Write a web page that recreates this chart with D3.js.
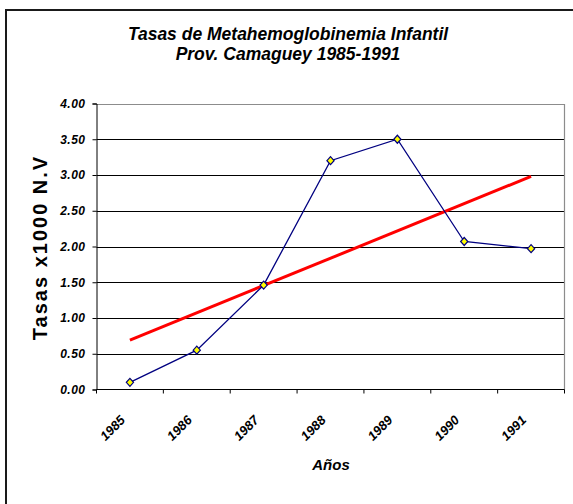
<!DOCTYPE html>
<html>
<head>
<meta charset="utf-8">
<script src="https://cdn.jsdelivr.net/npm/d3@7/dist/d3.min.js"></script>
<style>
  html, body { margin: 0; padding: 0; background: #fff; }
  svg { display: block; }
  text { font-family: "Liberation Sans", Arial, sans-serif; }
</style>
</head>
<body>
<svg id="chart" width="573" height="504"></svg>
<script>
const titleLines = ["Tasas de Metahemoglobinemia Infantil", "Prov. Camaguey 1985-1991"];
const years = ["1985", "1986", "1987", "1988", "1989", "1990", "1991"];
const rates = [0.10, 0.55, 1.46, 3.20, 3.50, 2.07, 1.97];
const yTicks = [0, 0.5, 1.0, 1.5, 2.0, 2.5, 3.0, 3.5, 4.0];
const yTitle = "Tasas x1000 N.V";
const xTitle = "Años";

const svg = d3.select("#chart");
const plot = { left: 96.5, right: 564.5, top: 103.5, bottom: 389.5 };

// outer chart border (right/bottom edges fall outside the window)
svg.append("rect")
  .attr("x", 6).attr("y", 10)
  .attr("width", 700).attr("height", 700)
  .attr("fill", "none").attr("stroke", "#1a1a1a").attr("stroke-width", 2);

const x = d3.scaleBand().domain(years).range([plot.left, plot.right]).padding(0);
const y = d3.scaleLinear().domain([0, 4]).range([plot.bottom, plot.top]);
const cx = d => x(d) + x.bandwidth() / 2;

// gridlines
svg.append("g").selectAll("line")
  .data(yTicks.filter(t => t > 0 && t < 4))
  .join("line")
  .attr("x1", plot.left).attr("x2", plot.right)
  .attr("y1", d => Math.round(y(d)) + 0.5).attr("y2", d => Math.round(y(d)) + 0.5)
  .attr("stroke", "#000").attr("stroke-width", 1);

// plot area border (top & right, gray)
svg.append("path")
  .attr("d", `M${plot.left},${Math.round(plot.top) + 0.5}H${plot.right}V${plot.bottom}`)
  .attr("fill", "none").attr("stroke", "#8c8c8c").attr("stroke-width", 1.2);

// y axis
const yAxis = d3.axisLeft(y).tickValues(yTicks).tickSize(4).tickPadding(7).tickFormat(d3.format(".2f"));
const gy = svg.append("g").attr("transform", `translate(${plot.left},0)`).call(yAxis);
gy.select(".domain").attr("stroke", "#000");
gy.selectAll(".tick line").attr("stroke", "#000");
gy.selectAll(".tick text")
  .attr("font-family", "Liberation Sans, Arial, sans-serif")
  .attr("font-size", 12).attr("font-weight", "bold").attr("font-style", "italic")
  .attr("letter-spacing", 0.5)
  .attr("fill", "#000");

// x axis with ticks at band boundaries
const gx = svg.append("g").attr("transform", `translate(0,${plot.bottom})`);
gx.append("line").attr("x1", plot.left).attr("x2", plot.right).attr("y1", 0).attr("y2", 0).attr("stroke", "#000");
const boundaries = years.map(d => x(d)).concat([x(years[years.length - 1]) + x.bandwidth()]);
gx.selectAll("line.tk").data(boundaries).join("line").attr("class", "tk")
  .attr("x1", d => d).attr("x2", d => d).attr("y1", 0).attr("y2", 4).attr("stroke", "#000");
svg.append("g").selectAll("text").data(years).join("text")
  .attr("transform", d => `translate(${cx(d) - 4},421) rotate(-45)`)
  .attr("text-anchor", "end")
  .attr("font-size", 13).attr("font-weight", "bold").attr("font-style", "italic")
  .attr("fill", "#000")
  .text(d => d);

// linear trendline (least squares over the series)
const xs = years.map((d, i) => i + 1);
const mx = d3.mean(xs), my = d3.mean(rates);
const slope = d3.sum(xs.map((v, i) => (v - mx) * (rates[i] - my))) / d3.sum(xs.map(v => (v - mx) ** 2));
const icpt = my - slope * mx;
const trend = [years[0], years[years.length - 1]].map((d, k) => ({ yr: d, v: icpt + slope * (k === 0 ? 1 : years.length) }));
svg.append("path")
  .datum(trend)
  .attr("d", d3.line().x(d => cx(d.yr)).y(d => y(d.v)))
  .attr("fill", "none").attr("stroke", "#ff0000").attr("stroke-width", 3);

// data line
svg.append("path")
  .datum(years.map((d, i) => ({ yr: d, v: rates[i] })))
  .attr("d", d3.line().x(d => cx(d.yr)).y(d => y(d.v)))
  .attr("fill", "none").attr("stroke", "#000080").attr("stroke-width", 1.3);

// diamond markers
svg.append("g").selectAll("path").data(years.map((d, i) => ({ yr: d, v: rates[i] })))
  .join("path")
  .attr("transform", d => `translate(${cx(d.yr)},${y(d.v)})`)
  .attr("d", "M0,-4L3.6,0L0,4L-3.6,0Z")
  .attr("fill", "#ffff00").attr("stroke", "#000080").attr("stroke-width", 1.2);

// titles
svg.append("g").selectAll("text").data(titleLines).join("text")
  .attr("x", 288).attr("y", (d, i) => 39.5 + i * 20.5)
  .attr("text-anchor", "middle")
  .attr("font-size", 17.5).attr("font-weight", "bold").attr("font-style", "italic")
  .attr("fill", "#000")
  .text(d => d);

svg.append("text")
  .attr("transform", "translate(47,247.5) rotate(-90)")
  .attr("text-anchor", "middle")
  .attr("font-size", 20).attr("font-weight", "bold").attr("letter-spacing", 2)
  .attr("fill", "#000")
  .text(yTitle);

svg.append("text")
  .attr("x", 331).attr("y", 470)
  .attr("text-anchor", "middle")
  .attr("font-size", 15).attr("font-weight", "bold").attr("font-style", "italic")
  .attr("fill", "#000")
  .text(xTitle);
</script>
</body>
</html>
